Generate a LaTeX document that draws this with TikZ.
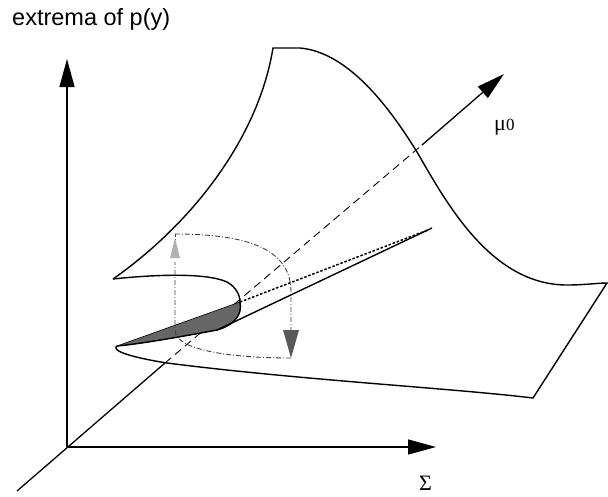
\documentclass[tikz,border=0pt]{standalone}
\usepackage{fontspec}
\setmainfont{Liberation Serif}
\newfontfamily\hv{Liberation Sans}
\usetikzlibrary{arrows.meta}
\tikzset{
  axis/.style={line width=1.3pt,-{Triangle[length=28pt,width=15pt]}},
  edge/.style={line width=1.4pt},
  loopline/.style={line width=0.9pt,black!75,dash pattern=on 5pt off 2pt on 1pt off 2pt},
  hidden/.style={line width=0.9pt,dash pattern=on 8pt off 5pt},
  dotline/.style={line width=1.5pt,dash pattern=on 2.5pt off 1.8pt},
}
\begin{document}
\begin{tikzpicture}[x=1pt,y=-1pt]
\useasboundingbox (0,0) rectangle (608,496);
% named points
\coordinate (O) at (67,447);
\coordinate (ytip) at (67,59);
\coordinate (xtip) at (436,447);
\coordinate (mustart) at (17,491);
\coordinate (muin) at (165,363);
\coordinate (muout) at (422,145);
\coordinate (mutip) at (504,74);
\coordinate (fold) at (240,302);
\coordinate (ltip) at (117,346);
\coordinate (utip) at (113,279);
\coordinate (cuspA) at (217,330);
\coordinate (cuspB) at (432,228);
% axes
\draw[axis] (O) -- (ytip);
\draw[axis] (O) -- (xtip);
\draw[line width=1.3pt] (mustart) -- (muin);
\draw[hidden] (muin) -- (muout);
\draw[axis] (muout) -- (mutip);
% surface outline
\draw[edge,line join=miter] (utip) .. controls (190,225) and (258,140) .. (273,48)
  -- (300,48)
  .. controls (345,52) and (385,100) .. (417,152)
  .. controls (445,200) and (490,285) .. (567,285)
  .. controls (585,285) and (597,283) .. (607,283)
  -- (533,398)
  .. controls (450,388) and (300,380) .. (167,363)
  .. controls (135,358) and (110,351) .. (ltip);
% upper sheet edge to fold
\draw[edge] (utip) .. controls (150,275) and (205,272) .. (227,282)
  .. controls (236,287) and (240,295) .. (fold);
% hatched fold region
\fill[black!60,draw=black,line width=0.6pt] (ltip) -- (fold)
  .. controls (243,316) and (232,326) .. (cuspA)
  .. controls (185,336) and (140,344) .. (ltip) -- cycle;
\draw[edge] (fold) .. controls (243,316) and (232,326) .. (cuspA);
\draw[edge] (cuspA) .. controls (185,336) and (140,344) .. (ltip);
% cusp lines
\draw[edge] (cuspA) -- (cuspB);
\draw[dotline] (fold) -- (428,230);
% hysteresis loop
\coordinate (lc1) at (175,234);
\coordinate (lc2) at (291,330);
\coordinate (lc3) at (291,358);
\coordinate (lc4) at (175,262);
\draw[loopline] (lc1) .. controls (250,234) and (291,250) .. (291,292) -- (lc2);
\draw[loopline] (lc3) .. controls (240,358) and (175,352) .. (175,330) -- (lc4);
\draw[loopline] (175,257) -- (lc1);
\fill[black!30] (170,258) -- (180,258) -- (175,238) -- cycle;
\fill[black!65] (283,330) -- (299,330) -- (291,358) -- cycle;
% labels
\node[anchor=base west,inner sep=0pt,font=\hv\fontsize{23.5}{26}\selectfont] (ttl) at (12,25) {extrema of p(y)};
\node[anchor=base west,inner sep=0pt] (mul) at (494,130) {\fontsize{22}{24}\selectfont μ\fontsize{17}{20}\selectfont 0};
\node[anchor=base west,inner sep=0pt] (sig) at (419,490) {\fontsize{22}{24}\selectfont Σ};
\end{tikzpicture}
\end{document}
